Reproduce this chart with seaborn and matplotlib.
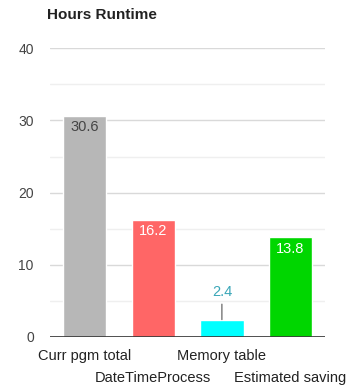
import seaborn as sns
import matplotlib.pyplot as plt
import pandas as pd

categories = ['Curr pgm total', 'DateTimeProcess', 'Memory table', 'Estimated saving']
hours = [30.6, 16.2, 2.4, 13.8]
colors = ['#b7b7b7', '#ff6666', '#00ffff', '#00d600']
label_colors = ['#444444', 'white', '#3aa7b8', 'white']

df = pd.DataFrame({'task': categories, 'hours': hours})

sns.set_style('white')
plt.rcParams['font.family'] = ['Liberation Sans', 'DejaVu Sans']

fig = plt.figure(figsize=(3.53, 3.86), dpi=100)
ax = fig.add_axes([0.143, 0.127, 0.777, 0.748])

sns.barplot(data=df, x='task', y='hours', hue='task', palette=colors,
            legend=False, width=0.63, ax=ax, saturation=1)

ax.set_ylim(0, 40)
ax.set_xlim(-0.5, 3.5)
ax.set_yticks([0, 10, 20, 30, 40])
ax.set_yticks([5, 15, 25, 35], minor=True)
ax.grid(axis='y', which='major', color='#d9d9d9', lw=1)
ax.grid(axis='y', which='minor', color='#efefef', lw=1)
ax.set_axisbelow(True)
ax.axhline(0, color='#333333', lw=1.2)
for s in ax.spines.values():
    s.set_visible(False)
ax.tick_params(axis='y', which='both', length=0, labelsize=10, colors='#444444', pad=12)
ax.tick_params(axis='x', length=0, labelsize=10.5, colors='#222222', pad=9)
ax.set_xlabel('')
ax.set_ylabel('')

# staggered category labels
ax.set_xticks(range(len(categories)))
ax.set_xticklabels(categories)
for i, t in enumerate(ax.get_xticklabels()):
    if i % 2 == 1:
        t.set_y(-0.076)

# value labels
for i, v in enumerate(hours):
    if v > 5:
        ax.text(i, v - 0.6, f'{v}', ha='center', va='top', fontsize=10.5,
                color=label_colors[i])
    else:
        ax.annotate(f'{v}', xy=(i, v), xytext=(i, v + 2.8), ha='center',
                    va='bottom', fontsize=10.5, color=label_colors[i],
                    arrowprops=dict(arrowstyle='-', color='#555555', lw=0.8,
                                    shrinkA=1, shrinkB=0))

fig.text(0.133, 0.962, 'Hours Runtime', fontsize=11, fontweight='bold',
         color='#222222', ha='left', va='center')

fig.savefig('out.png', dpi=100)
